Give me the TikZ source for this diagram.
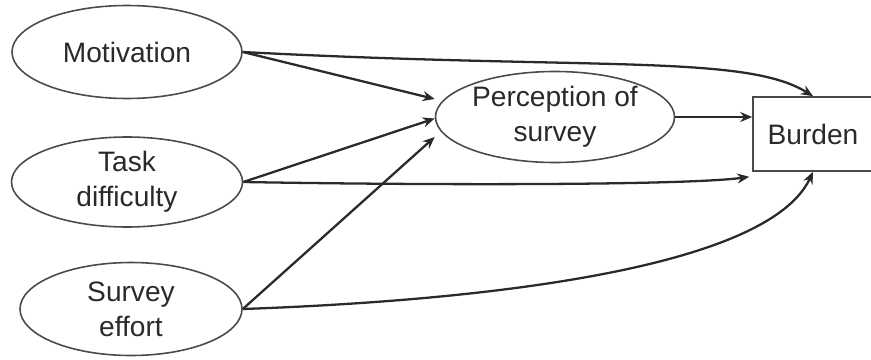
\documentclass[tikz,border=0pt]{standalone}
\usepackage{fontspec}
\setmainfont{Liberation Sans}
\definecolor{lineink}{HTML}{2A2A2A}
\definecolor{shapeink}{HTML}{4A4A4A}
\usepackage{tikz}
\usetikzlibrary{
  positioning, shapes.geometric, arrows.meta
}
\tikzset{
	factornode/.style={
			ellipse,
			draw=shapeink,
			line width=0.9pt,
			fill=white,
			text=lineink,
			align=center,
			inner sep=0pt,
			font=\fontsize{16}{20}\selectfont
		},
	outcomenode/.style={
			rectangle,
			draw=shapeink,
			line width=0.9pt,
			fill=white,
			text=lineink,
			inner sep=0pt,
			minimum width=2.4cm,
			minimum height=1.48cm,
			font=\fontsize{16}{20}\selectfont
		},
	pathline/.style={
			draw=lineink,
			line width=1.3pt,
			-{Stealth[length=2.4mm,width=2mm]}
		}
}

\begin{document}
\begin{tikzpicture}
				\useasboundingbox (0, 0) rectangle (17.42, 7.18);

				\node[factornode, minimum width=4.6cm, minimum height=1.86cm] (mot) at (2.54, 6.14) {Motivation};
				\node[factornode, minimum width=4.62cm, minimum height=1.8cm] (task) at (2.54, 3.54) {Task\\difficulty};
				\node[factornode, minimum width=4.44cm, minimum height=1.86cm] (eff) at (2.62, 1.0) {Survey\\effort};
				\node[factornode, minimum width=4.78cm, minimum height=1.82cm] (per) at (11.1, 4.84) {Perception of\\survey};
				\node[outcomenode] (bur) at (16.26, 4.5) {Burden};

				\draw[pathline] (mot.east) to[out=-3, in=148, out distance=7cm, in distance=1.6cm] (bur.north);
				\draw[pathline] (mot.east) -- ([yshift=0.36cm]per.west);

				\draw[pathline] (task.east) -- ([yshift=-0.03cm]per.west);
				\draw[pathline] (task.east) to[out=-1, in=188, out distance=4cm, in distance=1.2cm] ([xshift=-0.06cm, yshift=-0.1cm]bur.south west);

				\draw[pathline] (eff.east) -- ([yshift=-0.4cm]per.west);
				\draw[pathline] (eff.east) to[out=2, in=-115, out distance=4.5cm, in distance=2.2cm] (bur.south);

				\draw[pathline] (per.east) -- (per.east -| bur.west);
			\end{tikzpicture}
\end{document}
